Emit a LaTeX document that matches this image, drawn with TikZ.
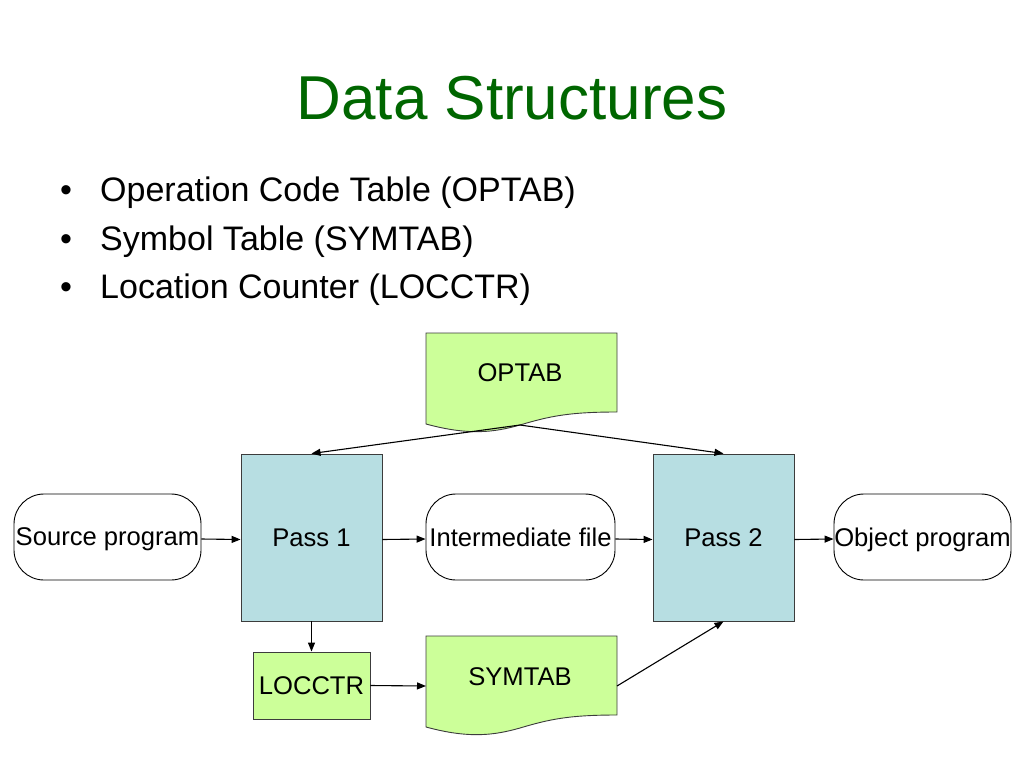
\documentclass[tikz,border=0pt]{standalone}
\usepackage{fontspec}
\setmainfont{Liberation Sans}
\usetikzlibrary{arrows.meta}
\definecolor{titlegreen}{RGB}{0,102,0}
\definecolor{passblue}{RGB}{183,222,226}
\definecolor{tabgreen}{RGB}{204,255,153}
\definecolor{edgegray}{RGB}{60,60,60}
\begin{document}
\begin{tikzpicture}[x=1pt,y=-1pt,
  nodefont/.style={font=\fontsize{25.6}{30}\selectfont, text depth=0pt, inner sep=0pt},
  lbl/.style={nodefont},
  passbox/.style={nodefont, draw=edgegray, line width=0.9pt, fill=passblue, minimum width=141pt, minimum height=167pt},
  filebox/.style={nodefont, draw=black, line width=0.9pt, rounded corners=30pt, minimum height=86pt},
  ctrbox/.style={nodefont, draw=edgegray, line width=0.9pt, fill=tabgreen, minimum width=117pt, minimum height=67pt},
  docshape/.style={draw=edgegray, line width=0.9pt, fill=tabgreen},
  conn/.style={draw=black, line width=1.1pt, -{Triangle[length=9pt,width=7pt]}},
  bul/.style={anchor=base west, inner sep=0pt, font=\fontsize{34}{40}\selectfont}
]
\useasboundingbox (0,0) rectangle (1024,768);
\fill[white] (0,0) rectangle (1024,768);

% title
\node[anchor=base, inner sep=0pt, text=titlegreen, font=\fontsize{62}{70}\selectfont] (title) at (512,119) {Data Structures};

% bullets
\node[bul] (b1m) at (60,201) {•};
\node[bul] (b1) at (100,201) {Operation Code Table (OPTAB)};
\node[bul] (b2m) at (60,250) {•};
\node[bul] (b2) at (100,250) {Symbol Table (SYMTAB)};
\node[bul] (b3m) at (60,298) {•};
\node[bul] (b3) at (100,298) {Location Counter (LOCCTR)};

% OPTAB document shape
\path[docshape] (426,333) -- (617,333) -- (617,412)
  .. controls (570,412) and (550,416) .. (520,425)
  .. controls (495,432) and (470,436) .. (426,424) -- cycle;
\node[lbl] (optab) at (520,373) {OPTAB};
\coordinate (optabout) at (520,425);

% SYMTAB document shape
\path[docshape] (426,636) -- (617,636) -- (617,715)
  .. controls (570,715) and (550,719) .. (520,728)
  .. controls (495,735) and (470,739) .. (426,727) -- cycle;
\node[lbl] (symtab) at (520,677) {SYMTAB};
\coordinate (symtabin) at (426,686);
\coordinate (symtabout) at (617,686);

% pass boxes
\node[passbox] (p1) at (311.5,537.5) {Pass 1};
\node[passbox] (p2) at (723.5,537.5) {Pass 2};

% file boxes
\node[filebox, minimum width=187pt] (src) at (107.5,537) {Source program};
\node[filebox, minimum width=189pt] (mid) at (520.5,537) {Intermediate file};
\node[filebox, minimum width=177pt] (obj) at (922.5,537) {Object program};

% LOCCTR
\node[ctrbox] (loc) at (311.5,685.5) {LOCCTR};

% connectors
\draw[conn] (optabout) -- (p1.north);
\draw[conn] (optabout) -- (p2.north);
\draw[conn] ([yshift=-2pt]src.east) -- ([yshift=-2pt]p1.west);
\draw[conn] ([yshift=-2pt]p1.east) -- ([yshift=-2pt]mid.west);
\draw[conn] ([yshift=-2pt]mid.east) -- ([yshift=-2pt]p2.west);
\draw[conn] ([yshift=-2pt]p2.east) -- ([yshift=-2pt]obj.west);
\draw[conn] (p1.south) -- (loc.north);
\draw[conn] (loc.east) -- (symtabin);
\draw[conn] (symtabout) -- (p2.south);
\end{tikzpicture}
\end{document}
